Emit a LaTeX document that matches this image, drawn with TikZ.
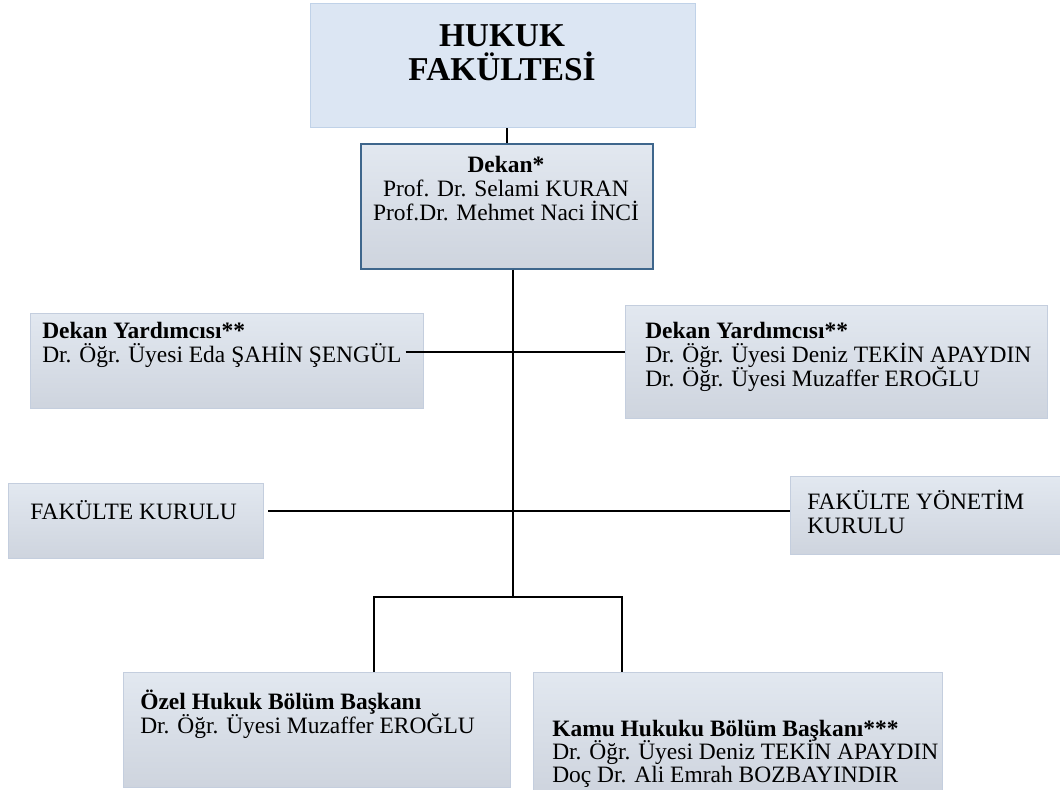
\documentclass[tikz,border=0pt]{standalone}
\usepackage{fontspec}
\setmainfont{Liberation Serif}
\usetikzlibrary{positioning,calc}
\definecolor{titlefill}{RGB}{220,230,243}
\definecolor{titleline}{RGB}{192,210,232}
\definecolor{boxline}{RGB}{196,206,222}
\definecolor{dekanline}{RGB}{62,102,140}
\definecolor{shadetop}{RGB}{226,232,240}
\definecolor{shademid}{RGB}{243,245,249}
\definecolor{shadebot}{RGB}{206,212,222}
\lineskiplimit=-10pt

\tikzset{
  unitbox/.style={rectangle, draw=boxline, line width=1pt, anchor=north west, inner sep=0pt,
    top color=shadetop, middle color=shademid, bottom color=shadebot},
  txt/.style={inner sep=0pt, align=left, anchor=north west, font=\fontsize{17.6}{17.8}\selectfont},
  link/.style={line width=1.3pt}
}

\begin{document}
\begin{tikzpicture}[x=0.75pt, y=-0.75pt]
  \useasboundingbox (0,0) rectangle (1060,789);

  % boxes
  \node (fak) [rectangle, draw=titleline, fill=titlefill, line width=1pt, anchor=north west, minimum width=288.75pt, minimum height=93pt] at (310,3) {};
  \node (dekan) [unitbox, draw=dekanline, line width=1.3pt, minimum width=219pt, minimum height=93.75pt] at (360,143) {};
  \node (dyL) [unitbox, minimum width=294.75pt, minimum height=71.25pt] at (30,313) {};
  \node (dyR) [unitbox, minimum width=316.5pt, minimum height=84.75pt] at (625,305) {};
  \node (kurul) [unitbox, minimum width=191.25pt, minimum height=56.25pt] at (8,483) {};
  \node (fyk) [unitbox, minimum width=206.25pt, minimum height=58.5pt] at (790,476) {};
  \node (ozel) [unitbox, minimum width=290.25pt, minimum height=86.25pt] at (123,672) {};
  \node (kamu) [unitbox, minimum width=306.75pt, minimum height=90pt] at (533,672) {};

  % texts
  \node (fakT) [txt, align=center, anchor=north, font=\fontsize{25}{26}\selectfont\bfseries] at (502,24) {HUKUK\\FAKÜLTESİ};
  \node (dekanT) [txt, align=center, anchor=north] at (506,156) {\textbf{Dekan*}\\Prof. Dr. Selami KURAN\\Prof.Dr. Mehmet Naci İNCİ};
  \node (dyLT) [txt] at (42,322) {\textbf{Dekan Yardımcısı**}\\Dr. Öğr. Üyesi Eda ŞAHİN ŞENGÜL};
  \node (dyRT) [txt] at (645,322) {\textbf{Dekan Yardımcısı**}\\Dr. Öğr. Üyesi Deniz TEKİN APAYDIN\\Dr. Öğr. Üyesi Muzaffer EROĞLU};
  \node (kurulT) [txt, anchor=base west] at (30,519) {FAKÜLTE KURULU};
  \node (fykT) [txt] at (807,490) {FAKÜLTE YÖNETİM\\KURULU};
  \node (ozelT) [txt] at (140,690) {\textbf{Özel Hukuk Bölüm Başkanı}\\Dr. Öğr. Üyesi Muzaffer EROĞLU};
  \node (kamuT) [txt, font=\fontsize{17.6}{17.2}\selectfont] at (552,720) {\textbf{Kamu Hukuku Bölüm Başkanı***}\\Dr. Öğr. Üyesi Deniz TEKİN APAYDIN\\Doç Dr. Ali Emrah BOZBAYINDIR};

  % connectors
  \coordinate (dyjoin) at (513,352);
  \coordinate (kjoin) at (513,511);
  \coordinate (split) at (513,597);
  \draw [link] (fak.south -| dekan.north) -- (dekan.north);
  \draw [link] (dekan.south -| split) -- (split);
  \draw [link] ([xshift=-14pt]dyL.east |- dyjoin) -- (dyR.west |- dyjoin);
  \draw [link] ([xshift=3pt]kurul.east |- kjoin) -- (fyk.west |- kjoin);
  \draw [link] ($(ozel.north west)+(251,0)$) |- (split) -| ($(kamu.north west)+(89,0)$);
\end{tikzpicture}
\end{document}
